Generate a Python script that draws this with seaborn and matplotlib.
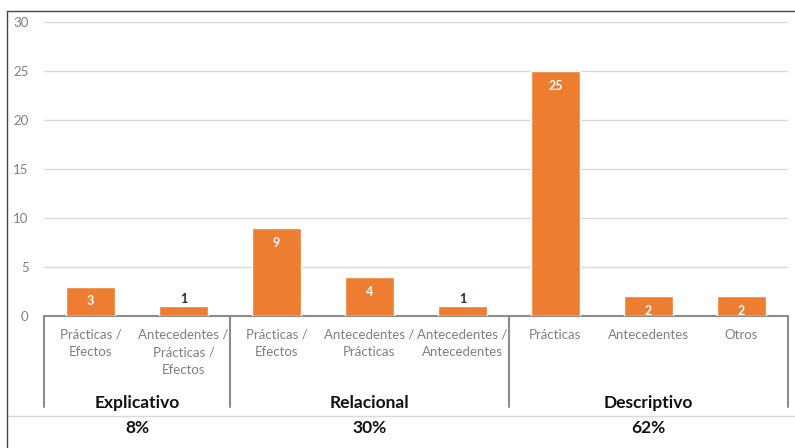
"""
Bar chart of study types grouped by research scope (Explicativo / Relacional / Descriptivo)
"""
import matplotlib
matplotlib.use('Agg')
import matplotlib.pyplot as plt
from matplotlib.lines import Line2D
import pandas as pd
import seaborn as sns

sns.set_style('white')
plt.rcParams['font.family'] = ['Lato', 'DejaVu Sans']

# Data
categories = ['Prácticas /\nEfectos', 'Antecedentes /\nPrácticas /\nEfectos',
              'Prácticas /\nEfectos', 'Antecedentes /\nPrácticas',
              'Antecedentes /\nAntecedentes',
              'Prácticas', 'Antecedentes', 'Otros']
values = [3, 1, 9, 4, 1, 25, 2, 2]
groups = ['Explicativo', 'Relacional', 'Descriptivo']
group_sizes = [2, 3, 3]
group_pcts = ['8%', '30%', '62%']

BAR = '#ED7D31'
GRID = '#d9d9d9'
AXIS = '#8c8c8c'
TICK = '#808080'

df = pd.DataFrame({'pos': range(len(values)), 'value': values})

fig = plt.figure(figsize=(7.95, 4.48), dpi=100)
ax = fig.add_axes([0.0553, 0.2946, 0.9357, 0.6564])

sns.barplot(data=df, x='pos', y='value', color=BAR, width=0.52,
            saturation=1, ax=ax, zorder=3)

ax.set_ylim(0, 30)
ax.set_xlim(-0.5, len(values) - 0.5)
ax.set_yticks(range(0, 31, 5))
ax.yaxis.grid(True, color=GRID, linewidth=1, zorder=0)
ax.set_xlabel('')
ax.set_ylabel('')
for side in ['top', 'right', 'left']:
    ax.spines[side].set_visible(False)
ax.spines['bottom'].set_color(AXIS)
ax.spines['bottom'].set_linewidth(1.5)
ax.tick_params(axis='y', length=0, labelsize=9.5, labelcolor=TICK, pad=11)
ax.tick_params(axis='x', length=0, labelsize=9.5, labelcolor=TICK, pad=9)
ax.set_xticks(range(len(categories)))
ax.set_xticklabels(categories, linespacing=1.55)

# value labels
for i, v in enumerate(values):
    if v >= 2:
        ax.text(i, v - 0.9, str(v), ha='center', va='top', color='white',
                fontsize=9, fontweight='bold', zorder=4)
    else:
        ax.text(i, v + 0.15, str(v), ha='center', va='bottom', color='#1f2a44',
                fontsize=9, fontweight='bold', zorder=4)

# group separators and group labels
xt = ax.get_xaxis_transform()
edges = [-0.5]
for s in group_sizes:
    edges.append(edges[-1] + s)
for e in edges:
    ax.plot([e, e], [0, -0.31], transform=xt, color=AXIS, linewidth=1.5,
            clip_on=False, zorder=2)

# faint bottom line across the figure
fig.add_artist(Line2D([0.009, 1.0], [0.0714, 0.0714], color=GRID, linewidth=1,
                      transform=fig.transFigure, zorder=1))

for g, pct, lo, hi in zip(groups, group_pcts, edges[:-1], edges[1:]):
    ax.text((lo + hi) / 2, -0.338, f'{g}\n{pct}', transform=xt, ha='center',
            va='center', fontsize=12.5, fontweight='bold', color='#111111',
            linespacing=1.7, zorder=5,
            bbox=dict(facecolor='white', edgecolor='none', pad=1))

# outer frame (top and left edges)
fig.add_artist(Line2D([0.009, 0.009], [0.0, 0.975], color='#444444',
                      linewidth=1, transform=fig.transFigure))
fig.add_artist(Line2D([0.009, 1.0], [0.975, 0.975], color='#444444',
                      linewidth=1, transform=fig.transFigure))

fig.savefig('out.png', dpi=100)
plt.close(fig)
